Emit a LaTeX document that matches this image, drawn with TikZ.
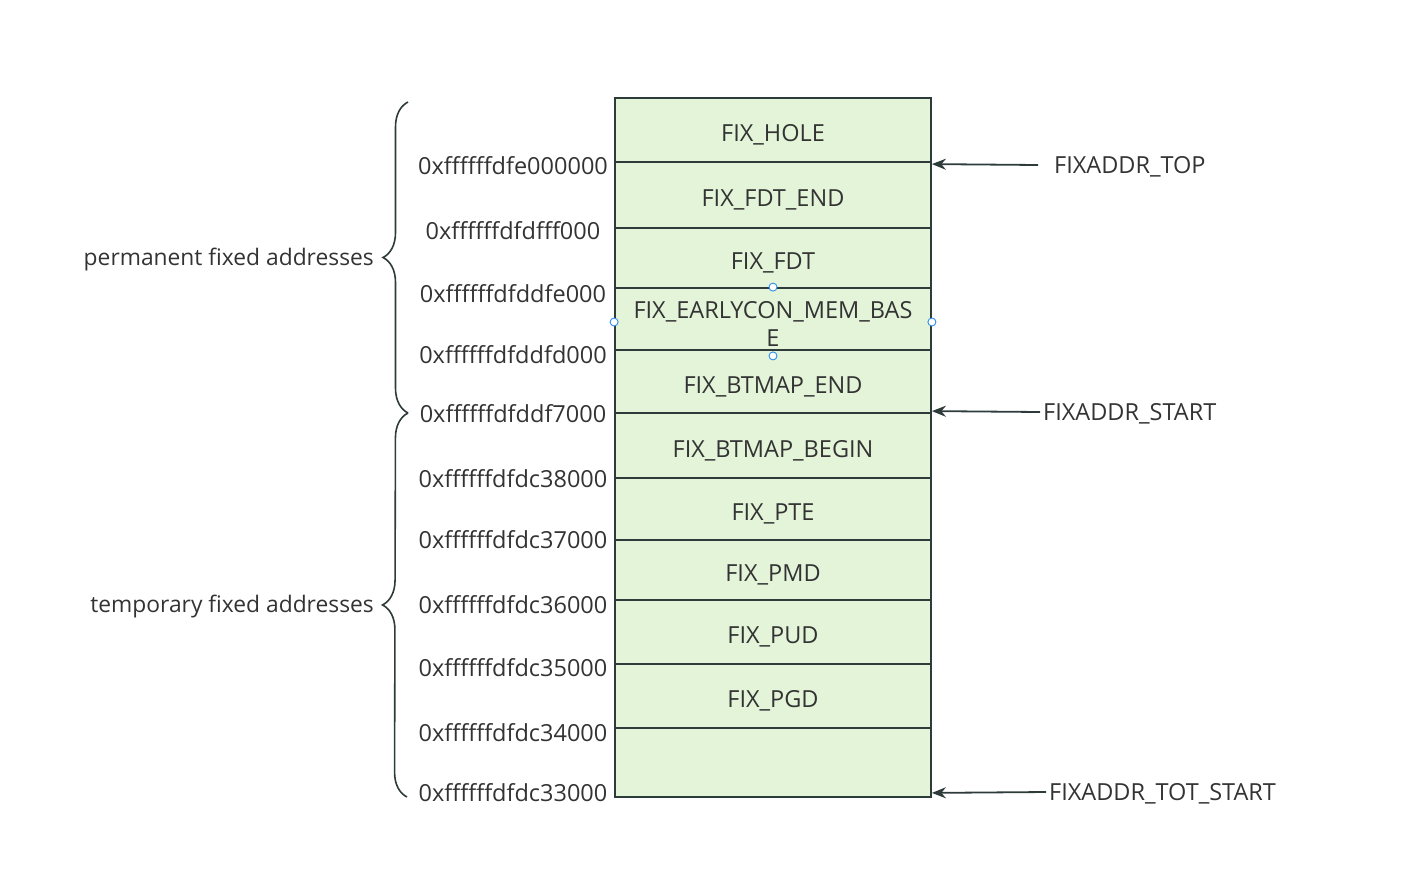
\documentclass[tikz,border=0pt]{standalone}
\usepackage{fontspec}
\setmainfont{Open Sans}
\usetikzlibrary{arrows.meta,decorations.pathreplacing}
\definecolor{ink}{HTML}{333333}
\definecolor{edge}{HTML}{2E3B3B}
\definecolor{cellfill}{HTML}{E3F4D9}
\definecolor{handle}{HTML}{2A8CF0}
\tikzset{
  cell/.style={draw=edge, fill=cellfill, line width=1.8pt, minimum width=316pt, inner sep=0pt,
    text=ink, font=\fontsize{23.5}{28}\selectfont, align=center, text height=23pt, text depth=0pt},
  addr/.style={text=ink, font=\fontsize{23.5}{28}\selectfont, inner sep=0pt},
  tag/.style={text=ink, font=\fontsize{23.5}{28}\selectfont, inner sep=3pt},
  ptr/.style={draw=edge, line width=1.8pt, -{Stealth[length=14pt,width=11pt]}},
  grp/.style={draw=edge, line width=1.6pt, decorate, decoration={brace, amplitude=25pt}},
  hdl/.style={circle, draw=handle, fill=white, line width=0.9pt, inner sep=0pt, minimum size=8pt},
}

\begin{document}
\begin{tikzpicture}[x=1pt,y=-1pt]
  \useasboundingbox (0,0) rectangle (1403,876);

  \node[cell, minimum height=64pt] (hole)       at (773,130)   {FIX\_HOLE};
  \node[cell, minimum height=66pt] (fdtend)     at (773,195)   {FIX\_FDT\_END};
  \node[cell, minimum height=60pt] (fdt)        at (773,258)   {FIX\_FDT};
  \node[cell, minimum height=62pt, text height=54pt, text depth=0pt] (earlycon) at (773,319)
    {FIX\_EARLYCON\_MEM\_BAS\\E};
  \node[cell, minimum height=63pt] (btmapend)   at (773,381.5) {FIX\_BTMAP\_END};
  \node[cell, minimum height=65pt] (btmapbegin) at (773,445.5) {FIX\_BTMAP\_BEGIN};
  \node[cell, minimum height=62pt] (pte)        at (773,509)   {FIX\_PTE};
  \node[cell, minimum height=60pt] (pmd)        at (773,570)   {FIX\_PMD};
  \node[cell, minimum height=64pt] (pud)        at (773,632)   {FIX\_PUD};
  \node[cell, minimum height=64pt] (pgd)        at (773,696)   {FIX\_PGD};
  \node[cell, minimum height=69pt] (spare)      at (773,762.5) {};

  \node[hdl] (hn) at (earlycon.north) {};
  \node[hdl] (hw) at ([yshift=-3pt]earlycon.west) {};
  \node[hdl] (he) at ([yshift=-3pt]earlycon.east) {};
  \node[hdl] (hs) at ([yshift=-5pt]earlycon.south) {};

  \node[addr] (a0)  at (513,166) {0xffffffdfe000000};
  \node[addr] (a1)  at (513,231) {0xffffffdfdfff000};
  \node[addr] (a2)  at (513,294) {0xffffffdfddfe000};
  \node[addr] (a3)  at (513,355) {0xffffffdfddfd000};
  \node[addr] (a4)  at (513,414) {0xffffffdfddf7000};
  \node[addr] (a5)  at (513,479) {0xffffffdfdc38000};
  \node[addr] (a6)  at (513,540) {0xffffffdfdc37000};
  \node[addr] (a7)  at (513,605) {0xffffffdfdc36000};
  \node[addr] (a8)  at (513,668) {0xffffffdfdc35000};
  \node[addr] (a9)  at (513,733) {0xffffffdfdc34000};
  \node[addr] (a10) at (513,793) {0xffffffdfdc33000};

  \node[tag, anchor=west] (top)      at (1051,167) {FIXADDR\_TOP};
  \node[tag, anchor=west] (start)    at (1040,414) {FIXADDR\_START};
  \node[tag, anchor=west] (totstart) at (1046,794) {FIXADDR\_TOT\_START};
  \draw[ptr] ([xshift=-13pt,yshift=2pt]top.west) -- ([yshift=-3pt]fdtend.north east);
  \draw[ptr] ([yshift=2pt]start.west) -- ([yshift=1pt]btmapbegin.north east);
  \draw[ptr] ([yshift=2pt]totstart.west) -- ([yshift=5pt]spare.south east);

  \coordinate (permlo) at (408,413);
  \coordinate (permhi) at (408,102);
  \coordinate (templo) at (407,797);
  \draw[grp] (permlo) -- (permhi);
  \draw[grp] (templo) -- (permlo);
  \node[tag, anchor=east, font=\fontsize{22.8}{28}\selectfont] (perm) at (377,260) {permanent fixed addresses};
  \node[tag, anchor=east, font=\fontsize{22.8}{28}\selectfont] (temp) at (377,607) {temporary fixed addresses};
\end{tikzpicture}
\end{document}
